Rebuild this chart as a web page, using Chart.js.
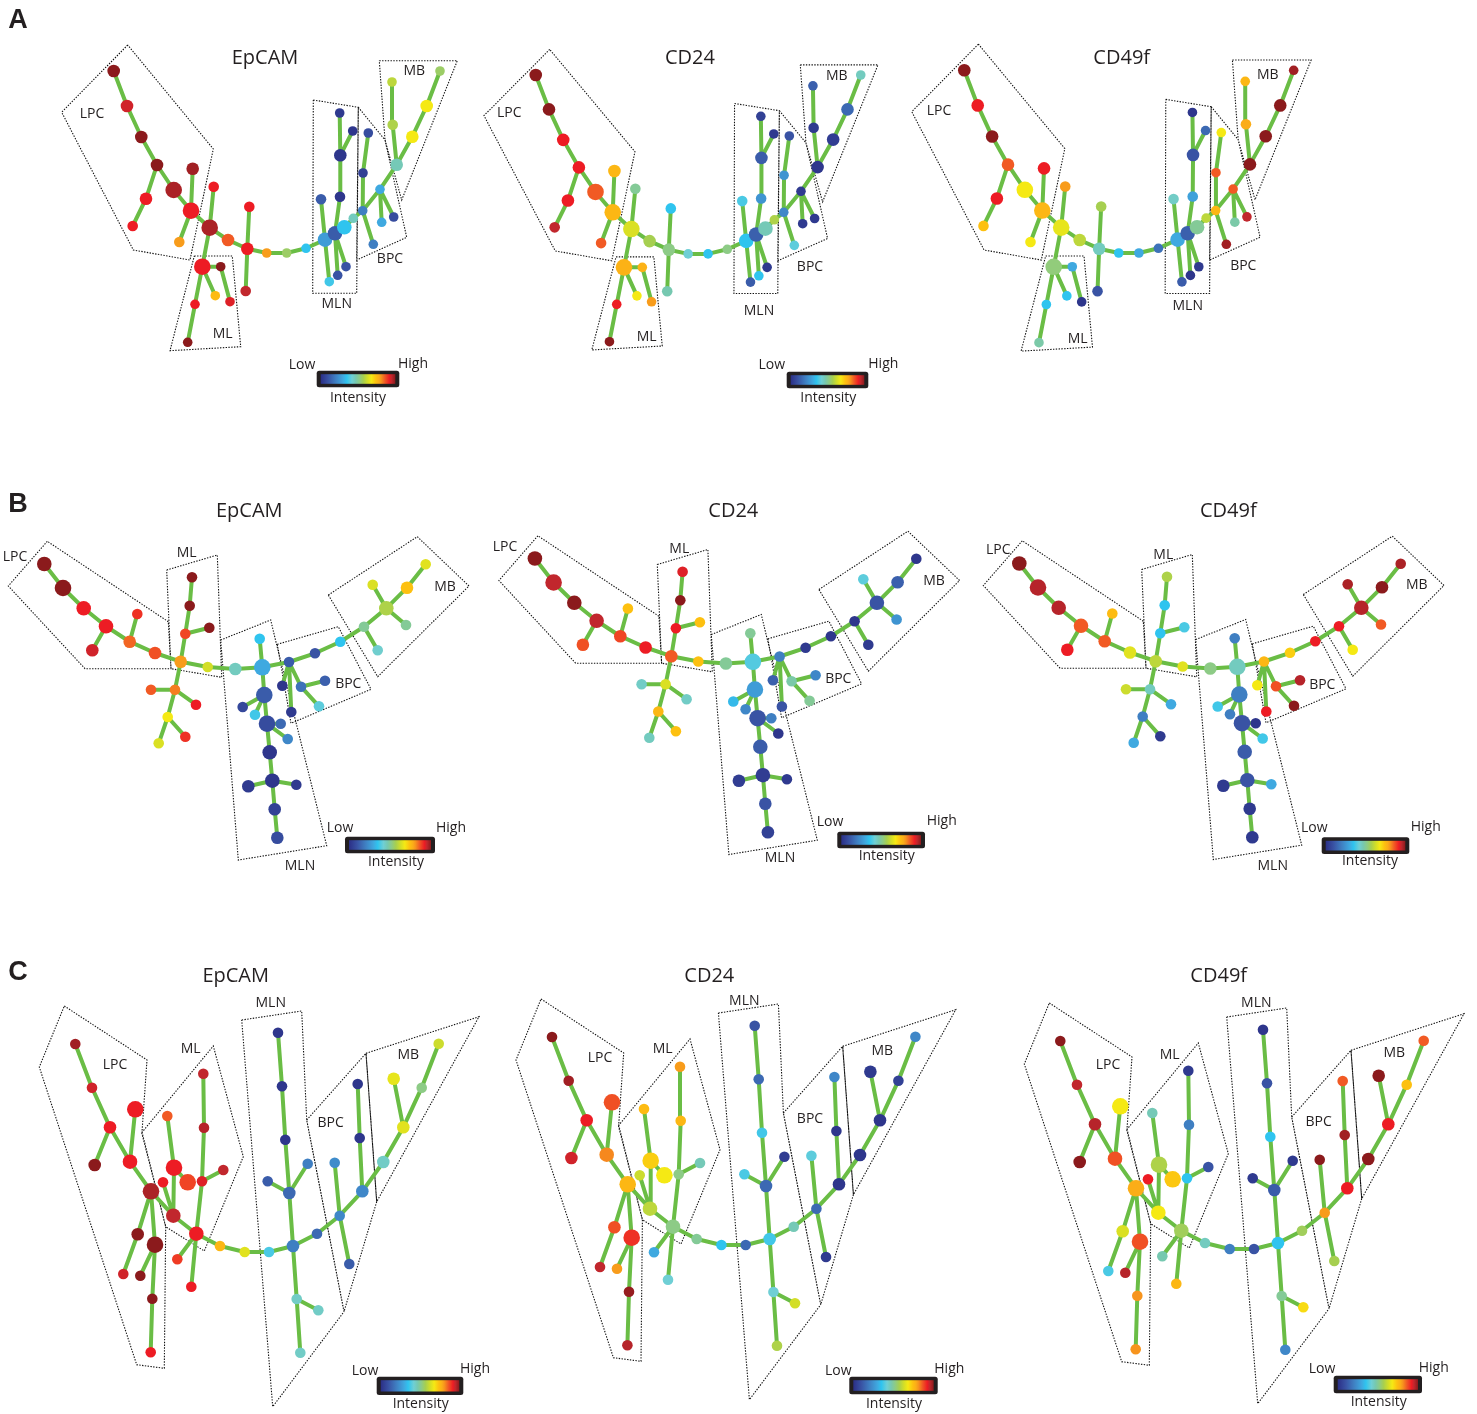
<!DOCTYPE html>
<html><head><meta charset="utf-8">
<script src="https://cdn.jsdelivr.net/npm/chart.js@4.4.1/dist/chart.umd.min.js"></script>
<style>html,body{margin:0;padding:0;background:#fff;overflow:hidden}canvas{display:block}</style>
</head><body>
<canvas id="c" width="1477" height="1414"></canvas>
<script>
// ---------- categories ----------
const rowLetters = ['A','B','C'];
const markers = ['EpCAM','CD24','CD49f'];
const regionNames = ['LPC','ML','MLN','BPC','MB'];
const barLabels = ['Low','High','Intensity'];

// ---------- row A tree (node layout, size level, edges, gates) ----------
const A_nodeX = [113.7,127,141.3,157,146,132.7,173.7,191,192.7,179.3, 209.7,213.7,202.3,220.7,215.3,230,195,187.7,228,247.3, 249.3,245.7,266.7,286.7,306,325,335,344.3,353.3,362.7, 380,396.7,412.3,426.7,440,392.7,392,381.7,393.7,373.3, 363,368.3,340,340.3,339.7,352.7,321,329.3,337.7,346];
const A_nodeY = [71,106,137,165,198.7,226,190,210.7,168.7,242, 227.7,186.7,266.7,266.7,295.7,301.7,304.3,342.3,240,248.7, 206.7,291,253,253,248.3,239.7,233.3,227.3,218.3,210.7, 189.3,164.7,136.7,106,71,124.7,82,222.3,217,244.3, 173,133,196.7,155.3,113,131,199.3,281.7,275.3,266.7];
const A_nodeSize = [3,3,3,3,3,2,5,5,3,2, 5,2,5,1,1,1,1,1,3,3, 2,2,1,1,1,4,4,4,1,1, 1,3,3,3,1,2,1,1,1,1, 1,1,2,3,1,1,2,1,1,1];
const A_edges = [[0,1],[1,2],[2,3],[3,4],[4,5],[3,6],[6,7],[7,8],[7,9],[7,10],[10,11],[10,12],[12,13],[12,14],[13,15],[12,16],[16,17],[10,18],[18,19],[19,20],[19,21],[19,22],[22,23],[23,24],[24,25],[25,26],[26,27],[27,28],[28,29],[29,30],[30,31],[31,32],[32,33],[33,34],[31,35],[35,36],[30,37],[30,38],[29,39],[29,40],[40,41],[26,42],[42,43],[43,44],[43,45],[25,46],[25,47],[26,48],[26,49]];
const A_gates = [
  [[127.7,45],[61.7,112.3],[133.3,250],[190,260],[213.3,149]],
  [[194.3,256],[232.3,256],[240.7,346.7],[170,350.7]],
  [[313.3,100],[358.3,107.3],[356.7,293.3],[312.7,293.3]],
  [[358.3,107.3],[385,140],[406.7,237.3],[356.7,260]],
  [[379.3,60.7],[457.3,60.7],[401.7,200],[385,140]]
];
const A_EpCAM = [1.0,0.94,1.0,1.0,0.92,0.92,0.97,0.92,0.98,0.8, 0.97,0.92,0.92,1.0,0.75,0.93,0.92,1.0,0.86,0.92, 0.92,0.95,0.8,0.55,0.35,0.27,0.12,0.35,0.45,0.2, 0.3,0.46,0.68,0.68,0.55,0.58,0.6,0.3,0.08,0.2, 0.05,0.08,0.02,0.02,0.03,0.02,0.12,0.37,0.1,0.1];
const A_CD24 = [1.0,1.0,0.92,0.92,0.92,0.95,0.86,0.76,0.76,0.86, 0.64,0.5,0.77,0.77,0.68,0.8,0.92,1.0,0.57,0.52, 0.35,0.47,0.42,0.35,0.52,0.35,0.13,0.46,0.58,0.22, 0.03,0.02,0.04,0.15,0.45,0.03,0.13,0.03,0.03,0.4, 0.25,0.1,0.25,0.12,0.05,0.03,0.38,0.12,0.35,0.03];
const A_CD49f = [1.0,0.92,1.0,0.86,0.92,0.74,0.68,0.76,0.92,0.68, 0.66,0.8,0.53,0.3,0.35,0.02,0.35,0.48,0.6,0.45, 0.57,0.1,0.35,0.3,0.17,0.3,0.13,0.5,0.6,0.76, 0.86,1.0,1.0,1.0,0.98,0.78,0.76,0.48,0.95,0.98, 0.86,0.68,0.28,0.1,0.02,0.15,0.44,0.12,0.02,0.03];

// ---------- row B tree ----------
const B_nodeX = [44.3,63,83.7,106,92.3,129.7,137.3,155,180.7,185.3, 209.3,189.7,192,175,151,196,167.7,185.3,158.7,207.7, 235.3,262.3,259.7,289,315,340.3,364,377.7,386.3,372.7, 407,425.7,406,282.3,291.3,301,325,319,264.3,242.7, 255,267,280.7,287.7,269.7,272.3,248.3,296.3,274.7,277.3];
const B_nodeY = [564,588,608.3,626.3,650.3,641.7,614,653,661.7,633.7, 627.7,605.7,577.3,689.7,689.7,704.7,717,736.7,743.3,667, 669,667.3,638.7,662,653.3,641.7,626.7,650.3,608.3,584.7, 587.7,564.3,625,685.7,712,686.7,680.7,706.3,695,707, 714.7,723.7,723.7,739,752.3,780.7,786.3,784.7,809.3,837.7];
const B_nodeSize = [4,5,4,4,3,3,2,3,3,2, 2,2,2,2,2,2,2,2,2,2, 3,5,2,2,2,2,2,2,4,2, 3,2,2,2,2,2,2,2,5,2, 2,5,2,2,4,4,3,2,3,3];
const B_edges = [[0,1],[1,2],[2,3],[3,4],[3,5],[5,6],[5,7],[7,8],[8,9],[9,10],[9,11],[11,12],[8,13],[13,14],[13,15],[13,16],[16,17],[16,18],[8,19],[19,20],[20,21],[21,22],[21,23],[23,24],[24,25],[25,26],[26,27],[26,28],[28,29],[28,30],[30,31],[28,32],[23,33],[23,34],[23,35],[35,36],[35,37],[21,38],[38,39],[38,40],[38,41],[41,42],[41,43],[41,44],[44,45],[45,46],[45,47],[45,48],[48,49]];
const B_gates = [
  [[47.3,541.3],[8.3,586],[85,668.7],[171,668.7],[168.3,621.7]],
  [[166.7,570],[217.3,555],[221.7,677.3],[171,668.7]],
  [[220.7,640],[270.7,620],[276.7,645],[326.7,845.7],[238.3,860]],
  [[277.3,644.3],[338.3,626.7],[371,689.3],[291,723.3]],
  [[328.3,595],[417.3,536.7],[469,586],[377.7,676.7]]
];
const B_EpCAM = [1.0,1.0,0.92,0.92,0.94,0.85,0.9,0.87,0.8,0.88, 1.0,1.0,1.0,0.83,0.86,0.92,0.68,0.9,0.64,0.63, 0.45,0.3,0.35,0.12,0.1,0.35,0.5,0.43,0.58,0.64, 0.74,0.65,0.5,0.02,0.03,0.17,0.13,0.4,0.12,0.07, 0.37,0.08,0.15,0.22,0.02,0.02,0.03,0.03,0.05,0.08];
const B_CD24 = [1.0,0.95,1.0,0.95,0.87,0.88,0.74,0.92,0.86,0.92, 0.74,1.0,0.93,0.64,0.44,0.44,0.76,0.74,0.45,0.74, 0.5,0.39,0.5,0.2,0.03,0.02,0.02,0.03,0.1,0.4, 0.13,0.02,0.25,0.13,0.1,0.48,0.22,0.5,0.27,0.33, 0.22,0.1,0.2,0.02,0.12,0.04,0.04,0.03,0.1,0.05];
const B_CD49f = [1.0,0.96,0.96,0.86,0.92,0.86,0.75,0.65,0.6,0.35, 0.38,0.35,0.58,0.45,0.62,0.3,0.2,0.03,0.3,0.65, 0.52,0.45,0.2,0.76,0.72,0.92,0.92,0.68,0.96,0.97, 1.0,0.97,0.86,0.68,0.92,0.87,0.96,1.0,0.2,0.37, 0.2,0.1,0.02,0.37,0.12,0.1,0.03,0.3,0.03,0.03];

// ---------- row C tree ----------
const C_nodeX = [75.3,92,110,94.7,130,135.3,151,137.7,123.3,155, 140.3,152.3,150.7,173.3,174,167.3,163,187.7,196.3,202, 204,203.3,223.3,177.3,191.3,220,244.7,269,293,289.3, 267.7,307.7,285.3,282,278,296.7,318.3,300.3,317,339.7, 334.7,349.3,362.3,359.7,357.7,383.3,403.3,393.7,421.7,438.7];
const C_nodeY = [1044,1087.7,1127.3,1165,1161.7,1109.3,1191.3,1234.3,1274,1244.7, 1275.7,1298.7,1352.3,1215.7,1167.7,1116,1182.3,1182.3,1233.7,1181.3, 1127.7,1073.7,1170,1259.3,1286.7,1246,1252,1252,1246,1193, 1181.3,1163.7,1139.7,1086.3,1032.7,1299,1310.3,1352.7,1233.7,1215.7, 1162.7,1264,1191.3,1138,1084,1162,1127.3,1078.7,1087.7,1043.7];
const C_nodeSize = [2,2,3,3,4,5,5,3,2,5, 2,2,2,4,5,2,2,5,4,2, 2,2,2,2,2,2,2,2,3,3, 2,2,2,2,2,2,2,2,2,2, 2,2,3,2,2,3,3,3,2,2];
const C_edges = [[0,1],[1,2],[2,3],[2,4],[4,5],[4,6],[6,7],[7,8],[6,9],[9,10],[9,11],[11,12],[6,13],[13,14],[14,15],[13,16],[14,17],[13,18],[18,19],[19,20],[20,21],[19,22],[18,23],[18,24],[18,25],[25,26],[26,27],[27,28],[28,29],[29,30],[29,31],[29,32],[32,33],[33,34],[28,35],[35,36],[35,37],[28,38],[38,39],[39,40],[39,41],[39,42],[42,43],[43,44],[42,45],[45,46],[46,47],[46,48],[48,49]];
const C_gates = [
  [[64.3,1006],[147,1060],[142,1132],[165.7,1226.7],[164.3,1368.3],[136.7,1364.7],[39.3,1067]],
  [[141.7,1132.7],[213.3,1046],[243.3,1156.7],[204.3,1251],[165.7,1226.7]],
  [[241.7,1020],[301.7,1011],[306.7,1120],[344,1311.7],[272.7,1406.7]],
  [[306.7,1120],[366,1053.3],[376.7,1201.7],[344,1311.7]],
  [[366,1053.3],[479,1016.7],[376.7,1201.7]]
];
const C_EpCAM = [0.98,0.94,0.92,1.0,0.92,0.92,0.97,1.0,0.94,1.0, 1.0,1.0,0.92,0.95,0.92,0.86,0.92,0.88,0.92,0.93, 0.96,0.95,0.95,0.89,0.92,0.76,0.65,0.38,0.2,0.15, 0.12,0.2,0.02,0.02,0.02,0.44,0.44,0.44,0.15,0.22, 0.23,0.12,0.22,0.02,0.02,0.44,0.65,0.66,0.52,0.62];
const C_CD24 = [1.0,0.98,0.92,0.94,0.82,0.87,0.76,0.87,0.95,0.9, 0.8,0.99,0.96,0.6,0.72,0.75,0.62,0.68,0.52,0.52, 0.76,0.8,0.46,0.3,0.42,0.5,0.35,0.15,0.37,0.15, 0.38,0.04,0.37,0.15,0.1,0.42,0.63,0.58,0.46,0.15, 0.4,0.03,0.02,0.02,0.22,0.02,0.02,0.03,0.05,0.22];
const C_CD49f = [1.0,0.95,0.96,1.0,0.87,0.68,0.78,0.64,0.38,0.87, 0.96,0.81,0.81,0.68,0.58,0.46,0.92,0.73,0.56,0.35, 0.2,0.03,0.1,0.47,0.76,0.45,0.2,0.1,0.35,0.12, 0.03,0.03,0.35,0.1,0.02,0.5,0.7,0.22,0.56,0.8, 1.0,0.57,0.92,0.98,0.86,1.0,0.92,1.0,0.74,0.86];

// ---------- styling / placement ----------
const W = 1477, H = 1414;
const TEXT = '#231f20';
const EDGE_COLOR = '#6abd45';
const SIZE_RADIUS = {1:4.8, 2:5.3, 3:6.3, 4:7.3, 5:8.3};
const CMAP = [[0,[43,47,134]],[0.10,[57,83,164]],[0.2,[63,127,194]],[0.3,[63,169,224]],[0.35,[47,196,239]],[0.42,[111,207,213]],[0.47,[118,200,176]],[0.52,[141,203,134]],[0.57,[166,207,80]],[0.63,[211,222,39]],[0.68,[245,233,20]],[0.74,[253,192,16]],[0.78,[251,173,24]],[0.81,[247,148,29]],[0.86,[241,90,36]],[0.92,[237,28,36]],[0.95,[193,39,45]],[1,[139,26,28]]];
function cmap(t){
  t=Math.max(0,Math.min(1,t));
  for(let i=1;i<CMAP.length;i++){
    const [t1,c1]=CMAP[i], [t0,c0]=CMAP[i-1];
    if(t<=t1){const f=(t-t0)/(t1-t0||1);return 'rgb('+c0.map((v,k)=>Math.round(v+(c1[k]-v)*f)).join(',')+')';}
  }
  return 'rgb('+CMAP[CMAP.length-1][1].join(',')+')';
}

const rows = {
  A:{X:A_nodeX,Y:A_nodeY,S:A_nodeSize,E:A_edges,G:A_gates,V:[A_EpCAM,A_CD24,A_CD49f]},
  B:{X:B_nodeX,Y:B_nodeY,S:B_nodeSize,E:B_edges,G:B_gates,V:[B_EpCAM,B_CD24,B_CD49f]},
  C:{X:C_nodeX,Y:C_nodeY,S:C_nodeSize,E:C_edges,G:C_gates,V:[C_EpCAM,C_CD24,C_CD49f]}
};
// page placement of each panel: scale transform, title, region labels, colour bar
const placement = [
 {row:'A',m:0,ox:0,oy:0,sx:1,sy:1,title:[265,58],labels:[[92,113.7],[222.7,334],[336.7,304.3],[390,259.3],[414.3,71]],bar:[316.7,370.7,399.3,387.3],barText:[[302,365],[413,364],[358,397.7]]},
 {row:'A',m:1,ox:422.5,oy:5.2,sx:0.996,sy:0.983,title:[690,58.3],labels:[[509.3,113.3],[646.7,337.3],[759,310.7],[810,266.7],[836.7,75.7]],bar:[786.7,371.7,868.3,388.3],barText:[[771.7,365],[883.3,364],[828.3,398.3]]},
 {row:'A',m:2,ox:849.5,oy:-1.0,sx:1.0095,sy:1.004,title:[1121.7,58.3],labels:[[939,110.7],[1077.7,339],[1187.7,305.7],[1243.3,266],[1267.7,74.7]],bar:null},
 {row:'B',m:0,ox:0,oy:0,sx:1,sy:1,title:[249.3,511.7],labels:[[15,556.7],[186.7,552.7],[300,866],[348.3,684],[445,586.7]],bar:[345,836.7,435,853.3],barText:[[340,828.3],[451,827.7],[396,862.3]]},
 {row:'B',m:1,ox:490.6,oy:-5.5,sx:1,sy:1,title:[733.3,511.7],labels:[[505,546.7],[679.3,549],[780,858.3],[838.3,679],[934,580.7]],bar:[837.3,831.7,925,848.3],barText:[[830,821.7],[941.7,821],[886.7,856]]},
 {row:'B',m:2,ox:975,oy:-0.5,sx:1,sy:1,title:[1228.3,511.7],labels:[[998.3,550],[1163.3,555],[1272.7,866],[1322.3,685],[1416.7,585.3]],bar:[1321.7,837.3,1409.3,854],barText:[[1314.3,828.3],[1425.7,826.7],[1370,861]]},
 {row:'C',m:0,ox:0,oy:0,sx:1,sy:1,title:[235.7,976],labels:[[115,1065],[190.7,1049],[270.7,1003.3],[330.7,1123.3],[408.3,1055]],bar:[376.7,1376.7,463.3,1395],barText:[[365,1370.7],[475,1369],[420.7,1404]]},
 {row:'C',m:1,ox:476.7,oy:-7,sx:1,sy:1,title:[709.3,976],labels:[[600,1057.7],[662.7,1049],[744.3,1000.7],[810,1119],[882.3,1050.7]],bar:[849.3,1376.7,937.7,1394.3],barText:[[838.3,1370.7],[949.3,1369],[894,1404]]},
 {row:'C',m:2,ox:985,oy:-3,sx:1,sy:1,title:[1218.7,976],labels:[[1108,1065],[1169.7,1055],[1256.3,1002.7],[1318.7,1121.7],[1394.3,1052.7]],bar:[1333.7,1375.7,1422,1393.3],barText:[[1322,1369],[1433.7,1367.7],[1378.7,1402.3]]}
];
const letterPos = [[18,21],[18,505],[18,973]];

// ---------- build chart ----------
const scales = {}, datasets = [];
placement.forEach((p,i)=>{
  const xmin=-p.ox/p.sx, ymin=-p.oy/p.sy;
  scales['x'+i]={type:'linear',display:false,bounds:'data',min:xmin,max:xmin+W/p.sx};
  scales['y'+i]={type:'linear',display:false,bounds:'data',reverse:true,min:ymin,max:ymin+H/p.sy};
  const r=rows[p.row], vals=r.V[p.m];
  const gap={x:null,y:null};
  datasets.push({type:'scatter',order:0,xAxisID:'x'+i,yAxisID:'y'+i,
    data:r.X.map((x,k)=>({x:x,y:r.Y[k]})),
    pointRadius:r.S.map(s=>SIZE_RADIUS[s]),pointHoverRadius:r.S.map(s=>SIZE_RADIUS[s]),
    pointBackgroundColor:vals.map(cmap),pointBorderWidth:0,pointHoverBorderWidth:0,showLine:false});
  const ed=[];
  r.E.forEach(([a,b])=>{ed.push({x:r.X[a],y:r.Y[a]},{x:r.X[b],y:r.Y[b]},gap);});
  datasets.push({type:'line',order:1,xAxisID:'x'+i,yAxisID:'y'+i,data:ed,borderColor:EDGE_COLOR,borderWidth:4,
    borderCapStyle:'round',borderJoinStyle:'round',pointRadius:0,pointHoverRadius:0,spanGaps:false,fill:false,tension:0});
  const gd=[];
  r.G.forEach(poly=>{poly.forEach(q=>gd.push({x:q[0],y:q[1]}));gd.push({x:poly[0][0],y:poly[0][1]},gap);});
  datasets.push({type:'line',order:2,xAxisID:'x'+i,yAxisID:'y'+i,data:gd,borderColor:'#111',borderWidth:1.1,
    borderDash:[1.4,1.4],pointRadius:0,pointHoverRadius:0,spanGaps:false,fill:false,tension:0});
});

const overlay = {id:'overlay',afterDraw(chart){
  const ctx=chart.ctx; ctx.save();
  ctx.fillStyle=TEXT; ctx.textAlign='center'; ctx.textBaseline='middle';
  ctx.font='bold 27px "Liberation Sans", Arial, sans-serif';
  rowLetters.forEach((l,i)=>ctx.fillText(l,letterPos[i][0],letterPos[i][1]));
  placement.forEach(p=>{
    ctx.fillStyle=TEXT;
    ctx.font='20px "Open Sans", sans-serif';
    ctx.fillText(markers[p.m],p.title[0],p.title[1]);
    ctx.font='14px "Open Sans", sans-serif';
    regionNames.forEach((n,k)=>ctx.fillText(n,p.labels[k][0],p.labels[k][1]));
    if(p.bar){
      const [x0,y0,x1,y1]=p.bar;
      ctx.fillStyle='#231f20';
      ctx.beginPath(); ctx.roundRect(x0,y0,x1-x0,y1-y0,2.5); ctx.fill();
      const g=ctx.createLinearGradient(x0+4,0,x1-4,0);
      CMAP.forEach(([t,c])=>g.addColorStop(t,'rgb('+c.join(',')+')'));
      ctx.fillStyle=g; ctx.fillRect(x0+4,y0+3.5,x1-x0-8,y1-y0-7);
      ctx.fillStyle=TEXT; ctx.font='14px "Open Sans", sans-serif';
      barLabels.forEach((t,k)=>ctx.fillText(t,p.barText[k][0],p.barText[k][1]));
    }
  });
  ctx.restore();
}};

new Chart(document.getElementById('c'),{
  type:'scatter',
  data:{datasets:datasets},
  options:{responsive:false,animation:false,events:[],devicePixelRatio:1,
    layout:{padding:0,autoPadding:false},scales:scales,
    plugins:{legend:{display:false},tooltip:{enabled:false}}},
  plugins:[overlay]
});
</script>
</body></html>
